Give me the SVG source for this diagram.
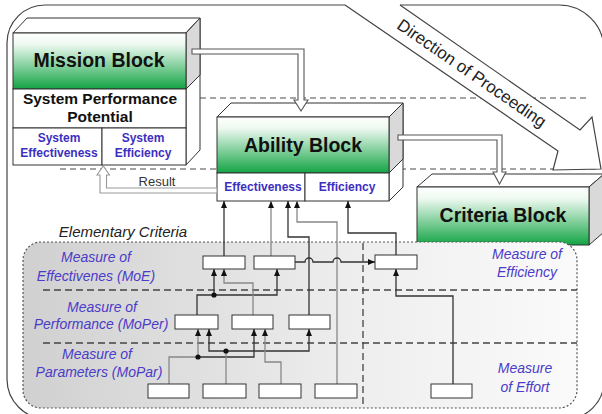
<svg xmlns="http://www.w3.org/2000/svg" width="602" height="414" viewBox="0 0 602 414">
<defs>
<linearGradient id="green" x1="0" y1="0" x2="0" y2="1">
<stop offset="0" stop-color="#ffffff"/>
<stop offset="0.2" stop-color="#eef9f1"/>
<stop offset="1" stop-color="#13a444"/>
</linearGradient>
<linearGradient id="panel" x1="0" y1="0" x2="1" y2="0">
<stop offset="0" stop-color="#d0d0d0"/>
<stop offset="0.6" stop-color="#eeeeee"/>
<stop offset="1" stop-color="#fafafa"/>
</linearGradient>
<marker id="ah" markerUnits="userSpaceOnUse" markerWidth="7" markerHeight="6" refX="7" refY="3" orient="auto">
<path d="M0,0 L7,3 L0,6 z" fill="#111"/>
</marker>
<style>
.edge{fill:none;stroke:#444;stroke-width:1.2}
.dash{fill:none;stroke:#888;stroke-width:1.3;stroke-dasharray:6 4}
.pdash{fill:none;stroke:#444;stroke-width:1.3;stroke-dasharray:7 4}
.face{fill:#fff;stroke:#333;stroke-width:1}
.side{fill:#d9d9d9;stroke:#333;stroke-width:1}
.grn{fill:url(#green);stroke:#333;stroke-width:1}
.title{font-family:"Liberation Sans",Arial,sans-serif;font-weight:bold;font-size:19.5px;fill:#111;text-anchor:middle}
.cell{font-family:"Liberation Sans",Arial,sans-serif;font-weight:bold;font-size:12px;fill:#3c2fbf;text-anchor:middle}
.lbl{font-family:"Liberation Sans",Arial,sans-serif;font-style:italic;font-size:14px;fill:#4b3bc9;text-anchor:middle}
.hollow{fill:#fff;stroke:#555;stroke-width:1.1}
.box{fill:#fff;stroke:#333;stroke-width:1}
.c{fill:none;stroke:#333;stroke-width:1.3}
.g{fill:none;stroke:#888;stroke-width:1.3}
.arr{marker-end:url(#ah)}
</style>
</defs>
<rect width="602" height="414" fill="#fff"/>
<path class="edge" d="M345,5 H45 A38,38 0 0 0 7,43 V379 A40,40 0 0 0 47,419 H566 A38,38 0 0 0 604,381 V50 A45,45 0 0 0 559,5 H400"/>
<g id="dashes">
<path class="dash" d="M200,98 H588"/>
<path class="dash" d="M60,169 H600"/>
</g>
<g id="direction">
<polygon points="345,5 558,151 553,170 601,169 592,117 580,130 400,5" fill="#fff" stroke="none"/>
<polyline points="345,5 558,151 553,170 601,169 592,117 580,130 400,5" fill="none" stroke="#444" stroke-width="1.2"/>
<text transform="translate(472,73) rotate(34.6)" x="0" y="6" font-family="Liberation Sans, Arial, sans-serif" font-size="17" fill="#222" text-anchor="middle">Direction of Proceeding</text>
</g>
<g id="mission">
<polygon class="face" points="13,33 27,18 200,18 186,33"/>
<polygon class="face" points="186,33 200,18 200,150 186,165"/>
<polygon class="side" points="186,33 200,18 200,75 186,89"/>
<rect class="grn" x="13" y="33" width="173" height="56"/>
<rect class="face" x="13" y="89" width="173" height="39"/>
<rect class="face" x="13" y="128" width="89" height="37"/>
<rect class="face" x="102" y="128" width="84" height="37"/>
<text class="title" x="99" y="67">Mission Block</text>
<text class="title" x="100" y="104" style="font-size:15.5px">System Performance</text>
<text class="title" x="100" y="122" style="font-size:15.5px">Potential</text>
<text class="cell" x="59" y="142">System</text>
<text class="cell" x="59" y="157">Effectiveness</text>
<text class="cell" x="143" y="142">System</text>
<text class="cell" x="143" y="157">Efficiency</text>
</g>
<g id="ability">
<polygon class="face" points="217,117 231,103 403,103 389,117"/>
<polygon class="face" points="389,117 403,103 403,187 389,201"/>
<polygon class="side" points="389,117 403,103 403,159 389,173"/>
<rect class="grn" x="217" y="117" width="172" height="56"/>
<rect class="face" x="217" y="173" width="88" height="28"/>
<rect class="face" x="305" y="173" width="84" height="28"/>
<text class="title" x="303" y="152">Ability Block</text>
<text class="cell" x="263" y="191">Effectiveness</text>
<text class="cell" x="347" y="191">Efficiency</text>
</g>
<g id="criteria">
<polygon class="face" points="417,187 432,174 604,174 589,187"/>
<polygon class="side" points="589,187 604,174 604,232 589,245"/>
<rect class="grn" x="417" y="187" width="172" height="58"/>
<text class="title" x="503" y="222">Criteria Block</text>
</g>
<g id="block-arrows">
<polygon class="hollow" points="192,49 304,49 304,100 308,100 301,111 294,100 298,100 298,54 192,54"/>
<polygon class="hollow" points="398,135 502,135 502,172 506,172 499.5,184 493,172 497,172 497,140 398,140"/>
<polygon class="hollow" style="stroke:#999" points="217,188 106.5,188 106.5,175 109.5,175 103.3,166 97,175 100,175 100,193 217,193"/>
<text x="157" y="186" font-family="Liberation Sans, Arial, sans-serif" font-size="13" fill="#333" text-anchor="middle">Result</text>
</g>
<text x="123" y="237" font-family="Liberation Sans, Arial, sans-serif" font-style="italic" font-size="15" fill="#222" text-anchor="middle">Elementary Criteria</text>
<g id="panel">
<path d="M417,242 H41 A18,18 0 0 0 23,260 V390 A18,18 0 0 0 41,408 H559 A18,18 0 0 0 577,390 V260 A18,18 0 0 0 559,242 Z" fill="url(#panel)" stroke="#555" stroke-width="1.2" stroke-dasharray="2 2"/>
<path class="pdash" d="M43,290 H577"/>
<path class="pdash" d="M43,343 H577"/>
<path class="pdash" d="M363,243 V408"/>
<text class="lbl" x="96" y="262">Measure of</text>
<text class="lbl" x="96" y="281">Effectivenes (MoE)</text>
<text class="lbl" x="102" y="312">Measure of</text>
<text class="lbl" x="101" y="329">Performance (MoPer)</text>
<text class="lbl" x="97" y="359">Measure of</text>
<text class="lbl" x="99" y="377">Parameters (MoPar)</text>
<text class="lbl" x="527" y="259">Measure of</text>
<text class="lbl" x="527" y="277">Efficiency</text>
<text class="lbl" x="525" y="373">Measure</text>
<text class="lbl" x="525" y="392">of Effort</text>
</g>
<g id="connectors">
<path class="c arr" d="M224,256 V201"/>
<path class="g arr" d="M271,256 V201"/>
<path class="c arr" d="M309,315 V237 H288 V201"/>
<path class="g arr" d="M337,384 V222 H297 V201"/>
<path class="c arr" d="M396,255 V233 H348 V201"/>
<path class="c arr" d="M295,262 H305 A4,4 0 0 1 313,262 H333 A4,4 0 0 1 341,262 H375"/>
<path class="c arr" d="M453,384 V296 H396 V269"/>
<path class="c arr" d="M197,315 V295 H214 V269"/>
<path class="c arr" d="M214,295 H277 V269"/>
<path class="g arr" d="M253,315 V283 H224 V269"/>
<path class="g arr" d="M169,384 V357 H198 V329"/>
<path class="c arr" d="M198,357 H254 V329"/>
<path class="g" d="M226,384 V351"/>
<path class="c arr" d="M226,351 H209 V329"/>
<path class="c arr" d="M226,351 H309 V329"/>
<path class="g arr" d="M281,384 V362 H265 V329"/>
<circle cx="214" cy="295" r="2.6" fill="#111"/>
<circle cx="198" cy="357" r="2.6" fill="#111"/>
<circle cx="226" cy="351" r="2.6" fill="#111"/>
</g>
<g id="moe-boxes">
<rect class="box" x="203" y="256" width="42" height="13"/>
<rect class="box" x="254" y="256" width="41" height="13"/>
<rect class="box" x="375" y="255" width="42" height="14"/>
</g>
<g id="moper-boxes">
<rect class="box" x="175" y="315" width="43" height="14"/>
<rect class="box" x="232" y="315" width="41" height="14"/>
<rect class="box" x="289" y="315" width="41" height="14"/>
</g>
<g id="mopar-boxes">
<rect class="box" x="148" y="384" width="41" height="14"/>
<rect class="box" x="203" y="384" width="43" height="14"/>
<rect class="box" x="259" y="384" width="42" height="14"/>
<rect class="box" x="315" y="384" width="42" height="14"/>
<rect class="box" x="431" y="384" width="41" height="14"/>
</g>
</svg>
